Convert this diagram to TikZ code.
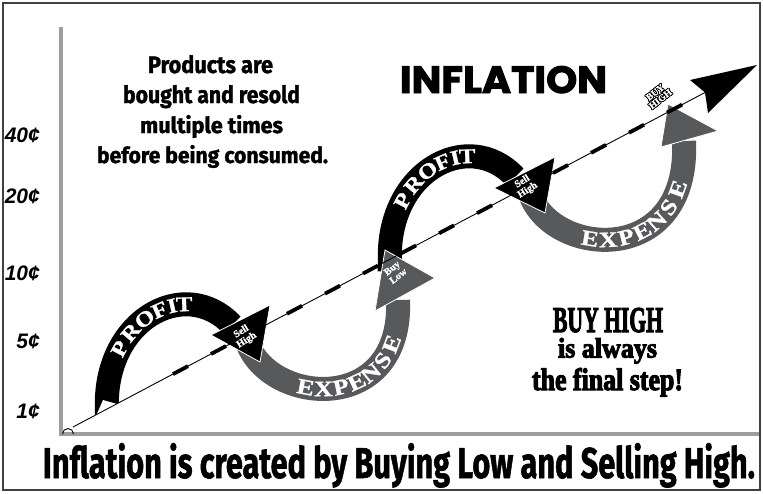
\documentclass[tikz,border=0pt]{standalone}
\usepackage{fontspec}
\usepackage{graphicx}
\usepackage{contour}
\contourlength{0.8pt}
\setmainfont{Liberation Serif}
\newfontfamily\axisfont{Liberation Sans}
\newfontfamily\handfont{Fira Sans}[BoldFeatures={FakeBold=1.5}]
\newfontfamily\titlefont{Poppins}[BoldFeatures={FakeBold=2.5}]
\newfontfamily\posterfont{Liberation Serif}[BoldFeatures={FakeBold=1}]
\newfontfamily\heavyserif{Liberation Serif}[BoldFeatures={FakeBold=3.5}]
\definecolor{bandgray}{RGB}{88,89,91}
\definecolor{axisgray}{RGB}{158,158,158}
\definecolor{framegray}{RGB}{64,64,64}
\newcommand{\fitto}[3]{\resizebox{#1pt}{#2pt}{#3}}
\newcommand{\widel}[1]{\scalebox{1.18}[1]{#1}}
\tikzset{
  band/.style={line width=24pt, line cap=butt},
  headshape/.style={draw=white, line width=0.8pt, line join=miter},
  pletter/.style={sloped, text=white, inner sep=0pt, font=\posterfont\bfseries\fontsize{21}{21}\selectfont},
  eletter/.style={sloped, text=white, inner sep=0pt, font=\posterfont\bfseries\fontsize{22}{22}\selectfont},
  headtext/.style={text=white, inner sep=0pt, align=center, font=\posterfont\bfseries\fontsize{10}{10}\selectfont},
  axislabel/.style={anchor=base east, inner sep=0pt, font=\axisfont\bfseries\itshape\fontsize{21}{21}\selectfont},
  textline/.style={anchor=base, inner sep=0pt},
}
\begin{document}
\begin{tikzpicture}[x=1pt,y=-1pt]
\useasboundingbox (0,0) rectangle (763,493);
\fill[white] (0,0) rectangle (763,493);
\draw[framegray, line width=2.5pt] (3,3) rectangle (760,490);
% axes
\draw[axisgray, line width=4.5pt, line join=miter] (61,27) -- (61,434) -- (759,434);
% axis labels
\node[axislabel] (l40) at (40,142) {40¢};
\node[axislabel] (l20) at (40,203) {20¢};
\node[axislabel] (l10) at (40,280) {10¢};
\node[axislabel] (l5) at (40,348) {5¢};
\node[axislabel] (l1) at (40,418) {1¢};
% expense 1 band
\draw[band, bandgray] (245,335) .. controls (260,405) and (403,420) .. (398,300);
% profit 1 band
\draw[band, black] (106.5,426) -- (107,412) .. controls (102,320) and (185,275) .. (232,325);
\fill[white] (88,418.8) -- (96.7,414.5) -- (103,400) -- (116.7,403.9) -- (125,399.5) -- (125,430) -- (88,430) -- cycle;
\filldraw[headshape, fill=black] (211,335) -- (270,305) -- (260,362) -- cycle;
% profit 2 band
\draw[band, black] (389.5,272) -- (390,264) .. controls (385,172) and (468,127) .. (515,177);
% buy low head
\filldraw[headshape, fill=bandgray] (375,311) -- (385,250) -- (435,278) -- cycle;
% expense 2 band
\draw[band, bandgray] (528,187) .. controls (543,257) and (690,272) .. (684,141);
% sell high head 2
\filldraw[headshape, fill=black] (494,188) -- (555,157) -- (545,213) -- cycle;
% buy high head
\filldraw[headshape, fill=bandgray] (661,147) -- (668,104) -- (718,131) -- cycle;
% main line
\coordinate (O) at (73,427);
\coordinate (S) at (173,374.1);
\coordinate (N) at (705,92.5);
\coordinate (T) at (757,65);
\draw[line width=0.9pt] (O) -- (N);
\draw[line width=3.8pt, dash pattern=on 17pt off 26pt] (S) -- (N);
\fill (T) -- (690,80) -- (N) -- (708,113) -- cycle;
\draw[line width=0.9pt] (62.5,434) arc[start angle=180, end angle=360, radius=5.5];
% letters
\path (107,412) .. controls (102,320) and (185,275) .. (232,325)
  node[pletter, pos=0.27] (a1) {\widel{P}}
  node[pletter, pos=0.365] (a2) {\widel{R}}
  node[pletter, pos=0.465] (a3) {\widel{O}}
  node[pletter, pos=0.56] (a4) {\widel{F}}
  node[pletter, pos=0.635] (a5) {\widel{I}}
  node[pletter, pos=0.705] (a6) {\widel{T}};
\path (390,264) .. controls (385,172) and (468,127) .. (515,177)
  node[pletter, pos=0.27] (b1) {\widel{P}}
  node[pletter, pos=0.365] (b2) {\widel{R}}
  node[pletter, pos=0.465] (b3) {\widel{O}}
  node[pletter, pos=0.56] (b4) {\widel{F}}
  node[pletter, pos=0.635] (b5) {\widel{I}}
  node[pletter, pos=0.705] (b6) {\widel{T}};
\path (245,335) .. controls (260,405) and (403,420) .. (398,300)
  node[eletter, pos=0.395] (c1) {\widel{E}}
  node[eletter, pos=0.475] (c2) {\widel{X}}
  node[eletter, pos=0.555] (c3) {\widel{P}}
  node[eletter, pos=0.63] (c4) {\widel{E}}
  node[eletter, pos=0.705] (c5) {\widel{N}}
  node[eletter, pos=0.78] (c6) {\widel{S}}
  node[eletter, pos=0.855] (c7) {\widel{E}};
\path (528,187) .. controls (543,257) and (690,272) .. (684,141)
  node[eletter, pos=0.395] (d1) {\widel{E}}
  node[eletter, pos=0.475] (d2) {\widel{X}}
  node[eletter, pos=0.555] (d3) {\widel{P}}
  node[eletter, pos=0.63] (d4) {\widel{E}}
  node[eletter, pos=0.705] (d5) {\widel{N}}
  node[eletter, pos=0.78] (d6) {\widel{S}}
  node[eletter, pos=0.855] (d7) {\widel{E}};
% head texts
\node[headtext, rotate=32] (sh1) at (244,336) {Sell\\High};
\node[headtext, rotate=32] (sh2) at (525,186) {Sell\\High};
\node[headtext, rotate=38] (bl) at (395,272) {Buy\\Low};
\node[inner sep=0pt, align=center, rotate=38, font=\posterfont\bfseries\fontsize{9.5}{8.5}\selectfont] (bh) at (658,96) {\contour{black}{\textcolor{white}{BUY}}\\\contour{black}{\textcolor{white}{HIGH}}};
% texts
\node[textline] (t1) at (210.5,73) {\fitto{125}{18}{\handfont\bfseries Products are}};
\node[textline] (t2) at (211.5,103) {\fitto{177}{18}{\handfont\bfseries bought and resold}};
\node[textline] (t3) at (211.5,133) {\fitto{143}{18}{\handfont\bfseries multiple times}};
\node[textline] (t4) at (212.5,163) {\fitto{231}{18}{\handfont\bfseries before being consumed.}};
\node[textline] (title) at (503.5,93) {\fitto{207}{27}{\titlefont\bfseries INFLATION}};
\node[textline] (r1) at (608,332) {\fitto{110}{24}{\heavyserif\bfseries BUY HIGH}};
\node[textline] (r2) at (607.5,357.5) {\fitto{99}{19.5}{\heavyserif\bfseries is always}};
\node[textline] (r3) at (607.5,390) {\fitto{151}{22}{\heavyserif\bfseries the final step!}};
\node[textline] (bottom) at (399,478) {\fitto{712}{35}{\handfont\bfseries Inflation is created by Buying Low and Selling High.}};
\end{tikzpicture}
\end{document}
